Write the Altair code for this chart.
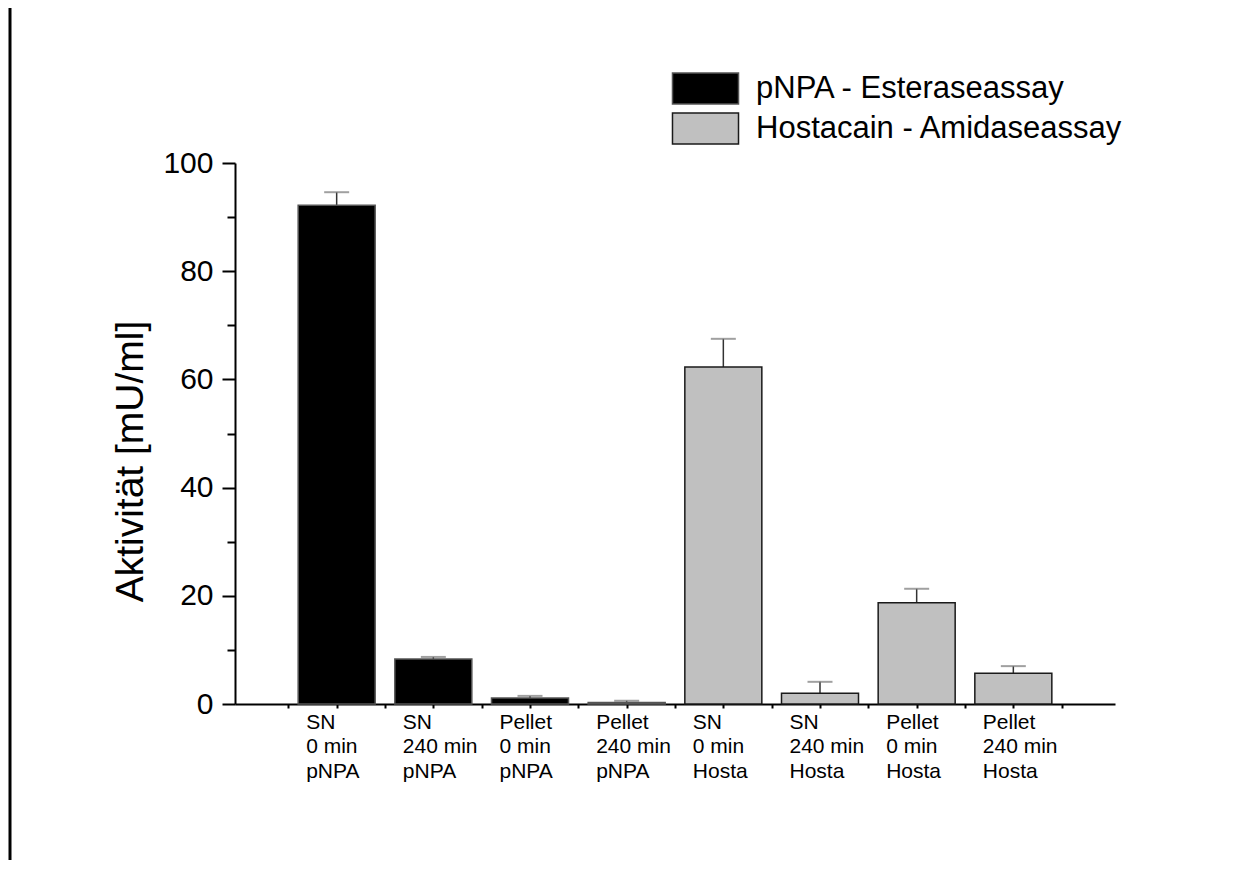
import json
import altair as alt
import pandas as pd

# ---- data ----
sample = ["SN", "SN", "Pellet", "Pellet", "SN", "SN", "Pellet", "Pellet"]
time = ["0 min", "240 min", "0 min", "240 min", "0 min", "240 min", "0 min", "240 min"]
substrate = ["pNPA", "pNPA", "pNPA", "pNPA", "Hosta", "Hosta", "Hosta", "Hosta"]
assay = ["pNPA - Esteraseassay"] * 4 + ["Hostacain - Amidaseassay"] * 4
activity = [92.2, 8.3, 1.1, 0.3, 62.3, 2.0, 18.7, 5.7]
error = [2.4, 0.4, 0.4, 0.3, 5.2, 2.1, 2.6, 1.3]
legend_labels = ["pNPA - Esteraseassay", "Hostacain - Amidaseassay"]
y_ticks = [0, 10, 20, 30, 40, 50, 60, 70, 80, 90, 100]

labels = [f"{s}|{t}|{p}" for s, t, p in zip(sample, time, substrate)]
df = pd.DataFrame({
    "pos": list(range(1, len(labels) + 1)),
    "label": labels,
    "assay": assay,
    "activity": activity,
    "top": [a + e for a, e in zip(activity, error)],
})

FONT = "Liberation Sans, Arial, sans-serif"

x_ticks = [0.5 * i for i in range(1, 18)]
label_expr = (
    "datum.value % 1 === 0 ? split(" + json.dumps(labels) + "[datum.value - 1], '|') : ''"
)

x_enc = alt.X(
    "pos:Q",
    scale=alt.Scale(domain=[0, 9], nice=False, zero=False),
    axis=alt.Axis(
        values=x_ticks,
        title=None,
        grid=False,
        labelExpr=label_expr,
        labelAlign="left",
        labelBaseline="top",
        labelOffset=-31,
        labelPadding=3,
        labelFont=FONT,
        labelFontSize=21,
        labelLineHeight=24.5,
        labelFlush=False,
        labelOverlap=False,
        labelBound=False,
        tickSize=4,
    ),
)

y_enc = alt.Y(
    "activity:Q",
    scale=alt.Scale(domain=[0, 100], nice=False),
    axis=alt.Axis(
        values=y_ticks,
        title="Aktivität [mU/ml]",
        grid=False,
        labelExpr="datum.value % 20 === 0 ? datum.label : ''",
        tickSize={"condition": {"test": "datum.value % 20 === 0", "value": 13}, "value": 8},
        labelFontSize=30,
        labelPadding=9,
        titleFontSize=39,
        titleFontWeight="normal",
        titlePadding=12,
        titleY=298,
    ),
)

base = alt.Chart(df)

bars = base.mark_bar(size=77, strokeWidth=1.5).encode(
    x=x_enc,
    y=y_enc,
    color=alt.Color(
        "assay:N",
        scale=alt.Scale(domain=legend_labels, range=["#000000", "#c0c0c0"]),
        legend=alt.Legend(
            title=None,
            orient="none",
            legendX=454,
            legendY=-91,
            symbolType="M-2.13,-1H2.13V1H-2.13Z",
            symbolSize=961,
            symbolStrokeColor="#111111",
            symbolStrokeWidth=1.5,
            symbolOpacity=1,
            labelFont=FONT,
            labelFontSize=31,
            labelOffset=34,
            labelLimit=0,
            rowPadding=3,
        ),
    ),
    stroke=alt.Stroke(
        "assay:N",
        scale=alt.Scale(domain=legend_labels, range=["#555555", "#1a1a1a"]),
        legend=None,
    ),
)

stems = base.mark_rule(color="#333333", strokeWidth=1.5).encode(
    x="pos:Q", y="activity:Q", y2="top:Q"
)
caps = base.mark_tick(orient="horizontal", size=25, thickness=2, color="#777777").encode(
    x="pos:Q", y="top:Q"
)

frame = alt.Chart(alt.Data(values=[{"f": 1}])).mark_rule(
    color="black", strokeWidth=3
).encode(x=alt.value(-225), y=alt.value(-155), y2=alt.value(697))

chart = (
    alt.layer(stems, caps, bars, frame)
    .properties(
        width=880,
        height=541,
        autosize=alt.AutoSizeParams(type="none"),
        padding={"left": 227, "top": 155, "right": 120, "bottom": 156},
    )
    .configure(font=FONT)
    .configure_view(stroke=None)
    .configure_axis(
        domainColor="black",
        domainWidth=2,
        tickColor="black",
        tickWidth=2,
        labelColor="black",
        titleColor="black",
        labelFont=FONT,
        titleFont=FONT,
    )
)

chart.save("out.html", embed_options={"renderer": "svg", "actions": False})
